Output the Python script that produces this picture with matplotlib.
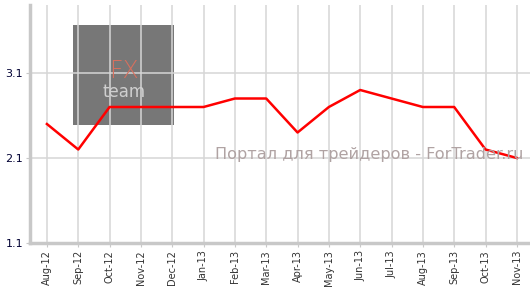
import matplotlib.pyplot as plt
from matplotlib.patches import Rectangle

months = ["Aug-12", "Sep-12", "Oct-12", "Nov-12", "Dec-12", "Jan-13", "Feb-13", "Mar-13",
          "Apr-13", "May-13", "Jun-13", "Jul-13", "Aug-13", "Sep-13", "Oct-13", "Nov-13"]
values = [2.5, 2.2, 2.7, 2.7, 2.7, 2.7, 2.8, 2.8, 2.4, 2.7, 2.9, 2.8, 2.7, 2.7, 2.2, 2.1]
yticks = [1.1, 2.1, 3.1]

fig = plt.figure(figsize=(5.3, 2.89), dpi=100)
ax = fig.add_axes([30/530, 1-243/289, 500/530, 238/289])

x = list(range(len(months)))
ax.plot(x, values, color="#ff0000", lw=1.8, zorder=3)

ax.set_xlim(-0.54, len(months) - 1 + 0.42)
ax.set_ylim(1.1, 1.1 + 238/85)
ax.set_xticks(x)
ax.set_xticklabels(months, rotation=90, fontsize=7, color="#333333")
ax.set_yticks(yticks)
ax.set_yticklabels([str(v) for v in yticks], fontsize=8, color="#000033")
ax.tick_params(axis="x", length=3, color="#c8c8c8", pad=2)
ax.tick_params(axis="y", length=3, color="#c8c8c8", pad=2)
ax.grid(True, color="#d6d6d6", lw=1.1)

for s in ["top", "right"]:
    ax.spines[s].set_visible(False)
for s in ["left", "bottom"]:
    ax.spines[s].set_color("#c8c8c8")
    ax.spines[s].set_linewidth(2.5)

# logo box
ax.add_patch(Rectangle((43/500, 118/238), 101/500, 100/238, transform=ax.transAxes,
                       facecolor="#777777", edgecolor="none", zorder=1))
ax.text(94/500, 165/238, "FX", transform=ax.transAxes, ha="center", va="baseline",
        fontsize=17, color="#d6705e", fontweight="light", zorder=2)
ax.text(94/500, 146/238, "team", transform=ax.transAxes, ha="center", va="baseline",
        fontsize=12, color="#cfcfcf", zorder=2)

# watermark
ax.text(493/500, 84/238, "Портал для трейдеров - ForTrader.ru", transform=ax.transAxes,
        ha="right", va="baseline", fontsize=11.6, color="#b0a3a3", zorder=4)

fig.savefig("out.png", dpi=100)
